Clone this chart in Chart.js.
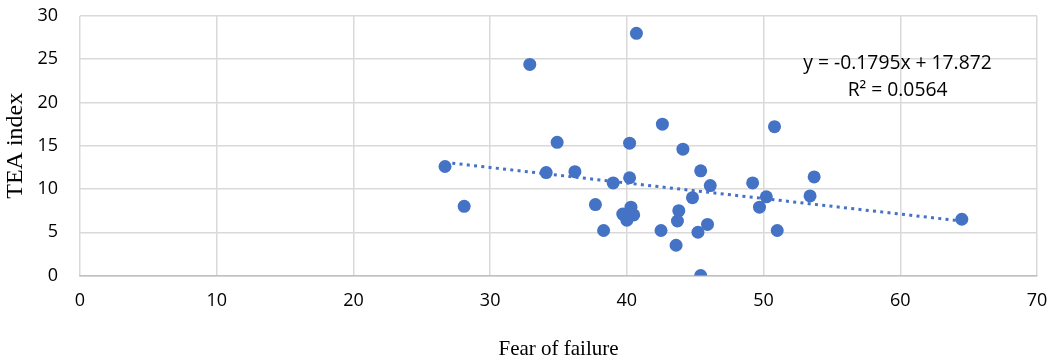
<!DOCTYPE html>
<html>
<head>
<meta charset="utf-8">
<script src="https://cdn.jsdelivr.net/npm/chart.js@4"></script>
<style>
  html, body { margin: 0; padding: 0; background: #fff; }
  #wrap { width: 1057px; height: 362px; }
</style>
</head>
<body>
<div id="wrap"><canvas id="chart"></canvas></div>
<script>
// values
const fearOfFailure = [26.7, 28.1, 32.9, 34.9, 34.1, 36.2, 39.0, 37.7, 38.3, 40.2,
    40.2, 40.3, 39.7, 40.0, 40.5, 42.6, 44.1, 42.5, 43.8, 43.7,
    43.6, 45.4, 46.1, 44.8, 45.9, 45.2, 45.4, 50.8, 49.2, 50.2,
    49.7, 51.0, 53.7, 53.4, 64.5, 40.7];
const teaIndex = [12.6, 8.0, 24.4, 15.4, 11.9, 12.0, 10.7, 8.2, 5.2, 15.3,
    11.3, 7.9, 7.1, 6.4, 7.0, 17.5, 14.6, 5.2, 7.5, 6.3,
    3.5, 12.1, 10.4, 9.0, 5.9, 5.0, 0.0, 17.2, 10.7, 9.1,
    7.9, 5.2, 11.4, 9.2, 6.5, 28.0];
const xTicks = [0, 10, 20, 30, 40, 50, 60, 70];
const yTicks = [0, 5, 10, 15, 20, 25, 30];
const trendSlope = -0.1795;
const trendIntercept = 17.872;
const trendLabel = ['y = -0.1795x + 17.872', 'R\u00b2 = 0.0564'];

const blue = '#4472C4';
const gridColor = '#d9d9d9';
const tickFont = { family: 'Open Sans', size: 18 };

const points = fearOfFailure.map((x, i) => ({ x: x, y: teaIndex[i] }));
const xMin = Math.min(...fearOfFailure);
const xMax = Math.max(...fearOfFailure);
const trend = [xMin, xMax].map(x => ({ x: x, y: trendSlope * x + trendIntercept }));

// equation text, anchored in data space
const trendText = {
    id: 'trendText',
    afterDatasetsDraw(chart) {
        const ctx = chart.ctx;
        const cx = chart.scales.x.getPixelForValue(59.8);
        const cy = chart.scales.y.getPixelForValue(24.45);
        ctx.save();
        ctx.fillStyle = '#000';
        ctx.font = '19.3px "Open Sans"';
        ctx.textAlign = 'center';
        ctx.textBaseline = 'middle';
        ctx.fillText(trendLabel[0], cx, cy);
        ctx.fillText(trendLabel[1], cx, cy + 27);
        ctx.restore();
    }
};

new Chart(document.getElementById('chart'), {
    type: 'scatter',
    data: {
        datasets: [
            {
                type: 'line',
                data: trend,
                borderColor: blue,
                borderWidth: 3,
                borderDash: [3, 4.3],
                pointRadius: 0,
                fill: false,
                order: 0
            },
            {
                data: points,
                backgroundColor: blue,
                borderWidth: 0,
                pointRadius: 6.5,
                pointHoverRadius: 6.5,
                order: 1
            }
        ]
    },
    options: {
        responsive: true,
        maintainAspectRatio: false,
        animation: false,
        events: [],
        layout: { padding: { top: 16, right: 20, left: 0, bottom: 0 } },
        plugins: { legend: { display: false }, tooltip: { enabled: false } },
        scales: {
            x: {
                type: 'linear',
                min: 0,
                max: 70,
                afterBuildTicks: s => { s.ticks = xTicks.map(v => ({ value: v })); },
                afterFit: s => { s.height = 86.5; s.paddingLeft = 0; s.paddingRight = 0; },
                grid: { color: gridColor, lineWidth: 1.5, drawTicks: false },
                border: { color: '#bfbfbf', width: 1.5 },
                ticks: { color: '#000', font: tickFont, padding: 15, maxRotation: 0 },
                title: {
                    display: true,
                    text: 'Fear of failure',
                    color: '#000',
                    font: { family: 'Liberation Serif', size: 21 },
                    padding: { top: 0, bottom: 0 }
                }
            },
            y: {
                type: 'linear',
                min: 0,
                max: 30,
                afterBuildTicks: s => { s.ticks = yTicks.map(v => ({ value: v })); },
                afterFit: s => { s.width = 80; s.paddingTop = 0; s.paddingBottom = 0; },
                grid: { color: gridColor, lineWidth: 1.5, drawTicks: false },
                border: { display: false },
                ticks: { color: '#000', font: tickFont, padding: 22 },
                title: {
                    display: true,
                    text: 'TEA index',
                    color: '#000',
                    font: { family: 'Liberation Serif', size: 24 },
                    padding: { top: 1, bottom: 0 }
                }
            }
        }
    },
    plugins: [trendText]
});
</script>
</body>
</html>
